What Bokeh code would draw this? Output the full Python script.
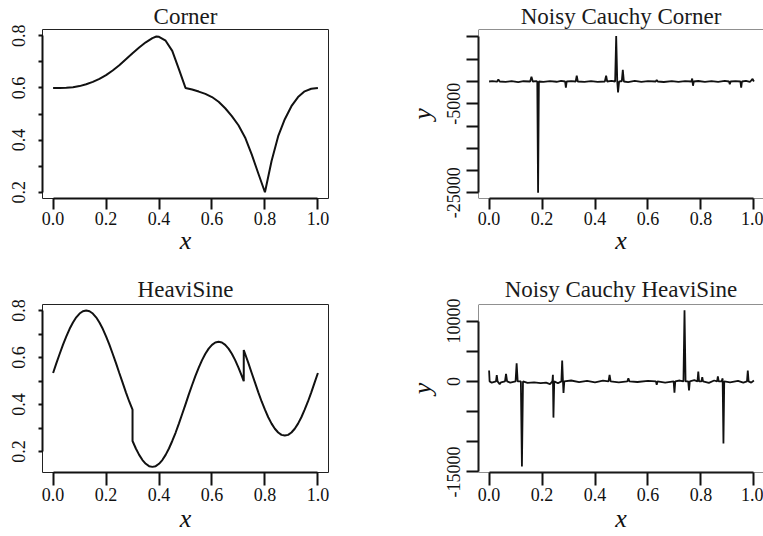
from bokeh.plotting import figure
from bokeh.models import Range1d, FixedTicker, NumeralTickFormatter, BasicTickFormatter, Span
from bokeh.layouts import column, row
from bokeh.embed import file_html
from bokeh.resources import INLINE

# ---------------- data ----------------
x_ticks = [0.0, 0.2, 0.4, 0.6, 0.8, 1.0]

corner_x = [0.0, 0.025, 0.05, 0.075, 0.1, 0.125, 0.15, 0.175, 0.2, 0.225, 0.25,
            0.275, 0.3, 0.325, 0.35, 0.375, 0.39, 0.4, 0.425, 0.45, 0.475, 0.5,
            0.525, 0.55, 0.575, 0.6, 0.625, 0.65, 0.675, 0.7, 0.725, 0.75, 0.775,
            0.8, 0.825, 0.85, 0.875, 0.9, 0.925, 0.95, 0.975, 1.0]
corner_y = [0.600, 0.600, 0.601, 0.603, 0.607, 0.614, 0.623, 0.635, 0.649, 0.667,
            0.687, 0.710, 0.733, 0.755, 0.775, 0.791, 0.797, 0.796, 0.781, 0.742,
            0.672, 0.600, 0.594, 0.586, 0.577, 0.565, 0.547, 0.522, 0.492, 0.457,
            0.410, 0.345, 0.272, 0.200, 0.320, 0.415, 0.480, 0.530, 0.565, 0.587,
            0.597, 0.600]

heavi_x = [0.0, 0.0125, 0.025, 0.0375, 0.05, 0.0625, 0.075, 0.0875, 0.1, 0.1125,
           0.125, 0.1375, 0.15, 0.1625, 0.175, 0.1875, 0.2, 0.2125, 0.225, 0.2375,
           0.25, 0.2625, 0.275, 0.2875, 0.3,
           0.3, 0.3125, 0.325, 0.3375, 0.35, 0.3625, 0.375, 0.3875, 0.4, 0.4125,
           0.425, 0.4375, 0.45, 0.4625, 0.475, 0.4875, 0.5, 0.5125, 0.525, 0.5375,
           0.55, 0.5625, 0.575, 0.5875, 0.6, 0.6125, 0.625, 0.6375, 0.65, 0.6625,
           0.675, 0.6875, 0.7, 0.7125, 0.72,
           0.72, 0.725, 0.7375, 0.75, 0.7625, 0.775, 0.7875, 0.8, 0.8125, 0.825,
           0.8375, 0.85, 0.8625, 0.875, 0.8875, 0.9, 0.9125, 0.925, 0.9375, 0.95,
           0.9625, 0.975, 0.9875, 1.0]
heavi_y = [0.534, 0.576, 0.616, 0.655, 0.690, 0.722, 0.749, 0.771, 0.787, 0.797,
           0.800, 0.797, 0.787, 0.771, 0.749, 0.722, 0.690, 0.655, 0.616, 0.576,
           0.534, 0.493, 0.452, 0.413, 0.378,
           0.245, 0.213, 0.186, 0.164, 0.148, 0.138, 0.135, 0.138, 0.148, 0.164,
           0.186, 0.213, 0.245, 0.280, 0.319, 0.360, 0.401, 0.443, 0.483, 0.522,
           0.557, 0.589, 0.616, 0.638, 0.654, 0.664, 0.667, 0.664, 0.654, 0.638,
           0.616, 0.589, 0.557, 0.522, 0.499,
           0.632, 0.616, 0.576, 0.534, 0.493, 0.452, 0.413, 0.378, 0.346, 0.319,
           0.297, 0.281, 0.271, 0.268, 0.271, 0.281, 0.297, 0.319, 0.346, 0.378,
           0.413, 0.452, 0.493, 0.534]

ncorner_x = [0.000, 0.012, 0.030, 0.035, 0.040, 0.062, 0.085, 0.110, 0.130, 0.155,
             0.160, 0.165, 0.178, 0.182, 0.185, 0.188, 0.205, 0.230, 0.255, 0.272,
             0.287, 0.290, 0.293, 0.310, 0.327, 0.331, 0.335, 0.360, 0.385, 0.410,
             0.437, 0.442, 0.446, 0.462, 0.476, 0.480, 0.484, 0.487, 0.491, 0.497,
             0.501, 0.505, 0.509, 0.525, 0.550, 0.575, 0.600, 0.629, 0.633, 0.637,
             0.660, 0.690, 0.715, 0.740, 0.764, 0.767, 0.770, 0.773, 0.790, 0.815,
             0.840, 0.865, 0.890, 0.906, 0.909, 0.912, 0.930, 0.949, 0.952, 0.955,
             0.970, 0.985, 0.995, 1.000]
ncorner_y = [0, 100, -50, 450, 0, -100, 80, -120, 60, 0,
             1050, 0, 80, 0, -25000, 0, -80, 100, -60, 120,
             0, -1350, 0, 90, 0, 1300, 0, -90, 70, -100,
             0, 1300, 0, 120, 0, 10200, 0, -2450, 0, 100,
             0, 2600, 0, -120, 150, -90, 80, 0, 350, 0,
             -110, 90, -80, 100, 0, 650, -950, 0, 110, -100,
             90, -70, 120, 0, -600, 0, 100, 0, -1400, 0,
             130, -110, 600, 0]

nheavi_x = [0.000, 0.002, 0.010, 0.026, 0.029, 0.032, 0.040, 0.045, 0.060, 0.064,
            0.068, 0.080, 0.100, 0.104, 0.108, 0.120, 0.124, 0.128, 0.145, 0.170,
            0.195, 0.215, 0.230, 0.239, 0.241, 0.243, 0.246, 0.260, 0.273, 0.276,
            0.279, 0.281, 0.284, 0.310, 0.340, 0.370, 0.400, 0.430, 0.451, 0.455,
            0.459, 0.490, 0.522, 0.526, 0.530, 0.560, 0.600, 0.630, 0.633, 0.636,
            0.665, 0.697, 0.700, 0.703, 0.720, 0.734, 0.738, 0.742, 0.752, 0.755,
            0.758, 0.775, 0.787, 0.790, 0.793, 0.802, 0.805, 0.808, 0.830, 0.850,
            0.861, 0.864, 0.867, 0.878, 0.882, 0.885, 0.888, 0.910, 0.940, 0.960,
            0.974, 0.977, 0.980, 0.990, 1.000]
nheavi_y = [1800, 0, -200, 0, 1050, 0, -450, -150, 0, 1260,
            0, -200, 0, 3000, 0, 0, -14100, 0, -250, -150,
            -300, -200, -450, 0, 1100, -6000, 0, -300, 0, 3450,
            0, -1900, 0, 150, -100, 100, -150, 120, 0, 1100,
            0, -150, 0, 500, 0, -100, 100, 0, -550, 0,
            -200, 0, -1850, 0, 150, 0, 11800, 0, 0, -1500,
            0, 200, 0, 1650, 0, 0, 700, 0, -250, 150,
            0, 820, 0, 0, 500, -10300, 0, -150, 100, -200,
            0, 1800, 0, -200, 150]

corner_yticks_major = [0.2, 0.4, 0.6, 0.8]
corner_yticks_minor = [0.3, 0.5, 0.7]
heavi_yticks_major = [0.2, 0.4, 0.6, 0.8]
heavi_yticks_minor = [0.3, 0.5, 0.7]
ncorner_yticks_major = [-25000, -5000]
ncorner_yticks_minor = [-20000, -15000, -10000, 0, 5000, 10000]
ncorner_ylabels = {-25000: "-25000", -5000: "-5000"}
nheavi_yticks_major = [-15000, 0, 10000]
nheavi_yticks_minor = [-10000, -5000, 5000]
nheavi_ylabels = {-15000: "-15000", 0: "0", 10000: "10000"}

titles = ["Corner", "Noisy Cauchy Corner", "HeaviSine", "Noisy Cauchy HeaviSine"]

# ---------------- styling ----------------
FONT = "Liberation Serif"
INK = "#111111"
BOX = "#222222"


def make_fig(width, height, yr, xr, title, mbl, mbr, mbt, mbb,
             ymaj, ymin, ybounds, ylabels, ylabel, ytick_out, ystand,
             xtick_out, xlab_stand, t_stand, t_lh, open_right):
    p = figure(width=width, height=height,
               x_range=Range1d(*xr), y_range=Range1d(*yr),
               output_backend="svg", toolbar_location=None,
               min_border_left=mbl, min_border_right=mbr,
               min_border_top=mbt, min_border_bottom=mbb)
    p.title.text = title
    p.title.align = "center"
    p.title.text_font = FONT
    p.title.text_font_size = "23px"
    p.title.text_font_style = "normal"
    p.title.text_color = "#1a1a1a"
    p.title.standoff = t_stand
    p.title.text_line_height = t_lh
    p.grid.visible = False
    p.background_fill_color = "white"
    p.border_fill_color = "white"
    if open_right:
        # the box runs past the right edge of the page: draw top, bottom, left only
        p.outline_line_color = None
        for loc, dim in ((yr[1], "width"), (yr[0], "width"), (xr[0], "height")):
            p.add_layout(Span(location=loc, dimension=dim,
                              line_color=BOX, line_width=1))
    else:
        p.outline_line_color = BOX
        p.outline_line_width = 1

    xa = p.xaxis[0]
    xa.ticker = FixedTicker(ticks=x_ticks)
    xa.formatter = NumeralTickFormatter(format="0.0")
    xa.bounds = (0, 1)
    xa.axis_line_width = 2
    xa.axis_line_color = INK
    xa.major_tick_line_width = 2
    xa.major_tick_line_color = INK
    xa.major_tick_out = xtick_out
    xa.major_tick_in = 0
    xa.minor_tick_line_color = None
    xa.major_label_text_font = FONT
    xa.major_label_text_font_size = "18px"
    xa.major_label_text_color = INK
    xa.major_label_standoff = 2
    xa.axis_label = "x"
    xa.axis_label_text_font = FONT
    xa.axis_label_text_font_style = "italic"
    xa.axis_label_text_font_size = "26px"
    xa.axis_label_text_color = INK
    xa.axis_label_standoff = xlab_stand

    ya = p.yaxis[0]
    ya.ticker = FixedTicker(ticks=ymaj, minor_ticks=ymin)
    if ylabels is None:
        ya.formatter = NumeralTickFormatter(format="0.0")
    else:
        ya.formatter = BasicTickFormatter()
        ya.major_label_overrides = ylabels
    ya.bounds = ybounds
    ya.axis_line_width = 2
    ya.axis_line_color = INK
    ya.major_tick_line_width = 2
    ya.major_tick_line_color = INK
    ya.minor_tick_line_width = 2
    ya.minor_tick_line_color = INK
    ya.major_tick_out = ytick_out
    ya.minor_tick_out = ytick_out
    ya.major_tick_in = 0
    ya.minor_tick_in = 0
    ya.major_label_orientation = "vertical"
    ya.major_label_text_font = FONT
    ya.major_label_text_font_size = "18px"
    ya.major_label_text_color = INK
    ya.major_label_standoff = ystand
    if ylabel:
        ya.axis_label = ylabel
        ya.axis_label_text_font = FONT
        ya.axis_label_text_font_style = "italic"
        ya.axis_label_text_font_size = "26px"
        ya.axis_label_text_color = INK
        ya.axis_label_standoff = 8
    return p


p1 = make_fig(388, 264, (0.176, 0.824), (-0.04, 1.04), titles[0], 42, 60, 29, 66,
              corner_yticks_major, corner_yticks_minor, (0.2, 0.8), None,
              None, 4, 13, 11, -2, 2, 0.8, False)
p1.line(corner_x, corner_y, line_color=INK, line_width=2)

p2 = make_fig(375, 264, (-26290, 11685), (-0.04, 1.0363), titles[1], 90, 0, 29, 66,
              ncorner_yticks_major, ncorner_yticks_minor, (-25000, 10000),
              ncorner_ylabels, "y", 12, 6, 11, -2, 2, 0.8, True)
p2.line(ncorner_x, ncorner_y, line_color=INK, line_width=1.8)

p3 = make_fig(388, 272, (0.111, 0.8255), (-0.04, 1.04), titles[2], 42, 60, 39, 64,
              heavi_yticks_major, heavi_yticks_minor, (0.2, 0.8), None,
              None, 4, 13, 13, 0, 5, 1.0, False)
p3.line(heavi_x, heavi_y, line_color=INK, line_width=2)

p4 = make_fig(375, 272, (-15100, 12750), (-0.04, 1.0363), titles[3], 90, 0, 40, 64,
              nheavi_yticks_major, nheavi_yticks_minor, (-15000, 10000),
              nheavi_ylabels, "y", 12, 6, 13, 0, 5, 1.0, True)
p4.line(nheavi_x, nheavi_y, line_color=INK, line_width=1.8)

layout = column(row(p1, p2), row(p3, p4))

open("out.html", "w").write(file_html(layout, INLINE))
